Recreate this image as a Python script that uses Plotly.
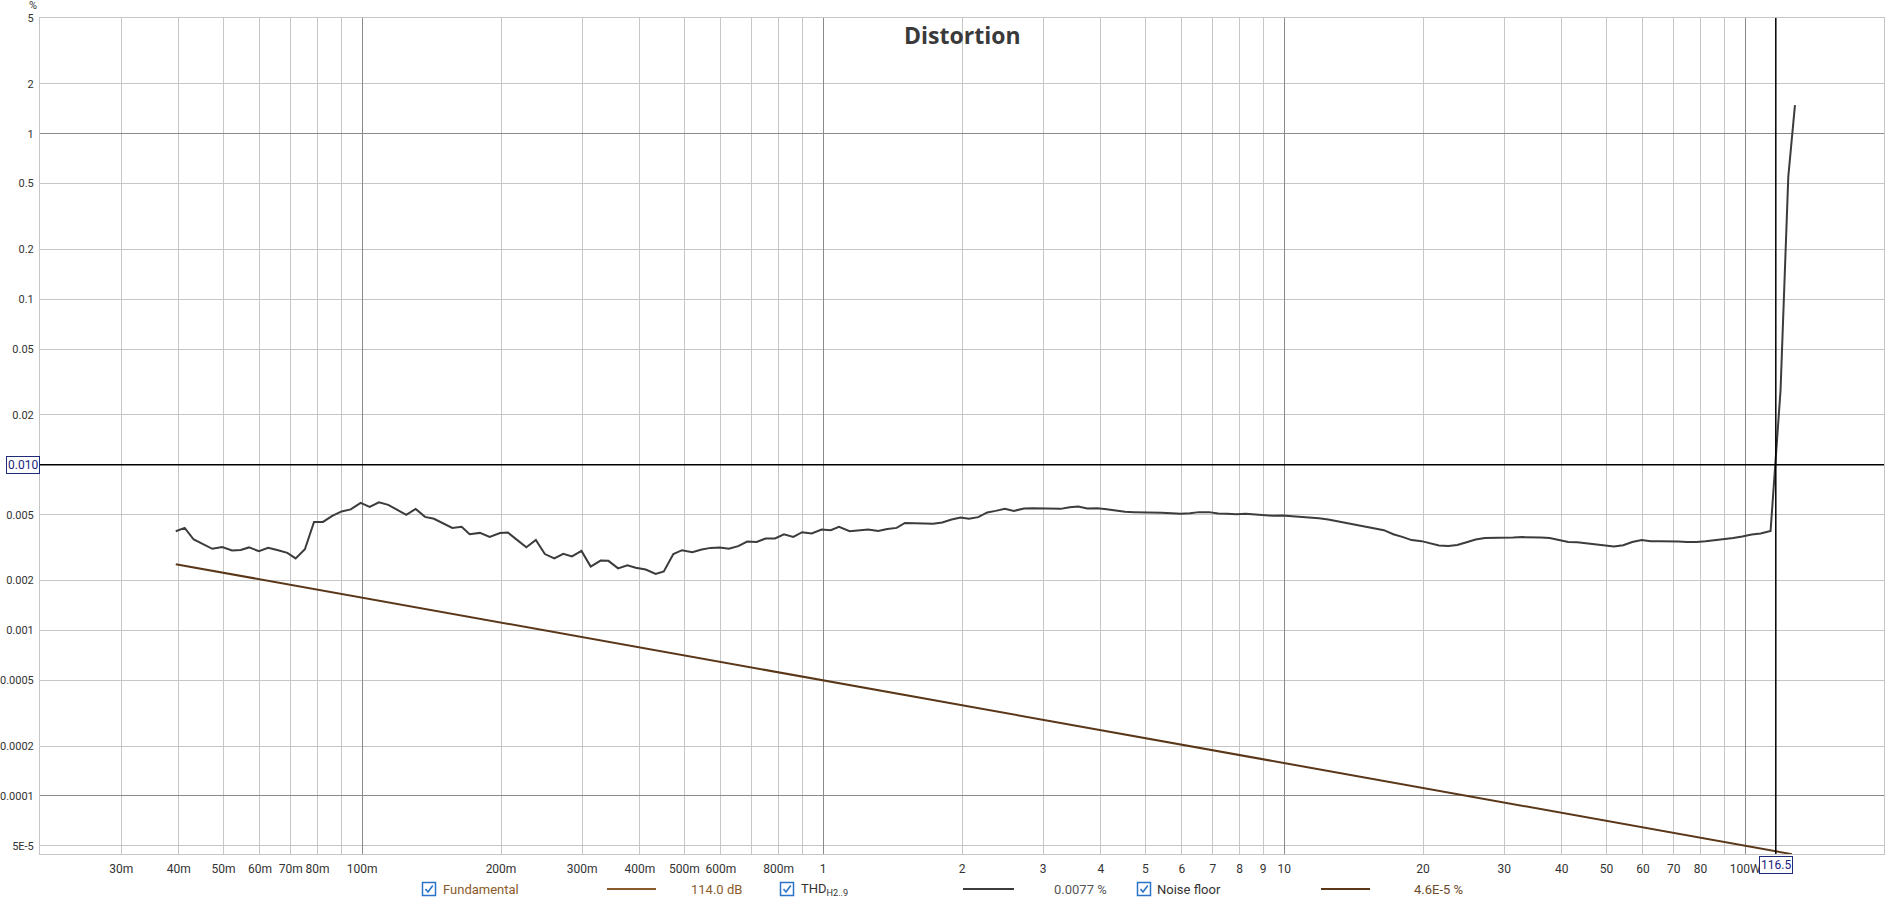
import math
import plotly.graph_objects as go

# ---------------- data ----------------
thd_power_w = [
    0.0394, 0.0412, 0.0431, 0.0450, 0.0473, 0.0497, 0.0522, 0.0545, 0.0568, 0.0597,
    0.0625, 0.0654, 0.0688, 0.0717, 0.0751, 0.0786, 0.0822, 0.0861, 0.0902, 0.0944,
    0.0992, 0.1038, 0.1087, 0.1139, 0.1191, 0.1246, 0.1306, 0.1368, 0.1431, 0.1497,
    0.1568, 0.1643, 0.171,
    0.180, 0.189, 0.199, 0.207, 0.217, 0.227, 0.238, 0.249, 0.261, 0.273,
    0.285, 0.299, 0.313, 0.329, 0.342, 0.359, 0.376, 0.392, 0.412, 0.433,
    0.451, 0.473, 0.494, 0.520, 0.545, 0.570, 0.597, 0.624, 0.654, 0.684,
    0.717, 0.750, 0.786, 0.822, 0.861, 0.900, 0.944, 0.992, 1.038, 1.082,
    1.141, 1.195, 1.252, 1.316, 1.377, 1.443, 1.504, 1.581, 1.654, 1.732,
    1.812, 1.899, 1.986, 2.071, 2.169, 2.269, 2.366, 2.478, 2.592, 2.725,
    2.850, 2.986, 3.129, 3.273, 3.424, 3.574, 3.738, 3.930, 4.119, 4.308,
    4.513, 4.721, 4.962, 5.172, 5.421, 5.699, 5.961, 6.244, 6.531, 6.866,
    7.192, 7.523, 7.869, 8.247, 8.639, 9.036, 9.466, 9.901, 10.41, 10.85,
    11.31, 11.89, 12.46, 13.03, 13.70, 14.33, 15.02, 15.73, 16.45, 17.24,
    18.03, 18.90, 19.86, 20.78, 21.66, 22.69, 23.73, 24.87, 26.01, 27.25,
    28.50, 29.96, 31.39, 32.83, 34.41, 35.99, 37.65, 39.43, 41.31, 43.21,
    45.29, 47.37, 49.62, 51.91, 54.37, 56.87, 59.61, 62.35, 65.31, 68.32,
    71.56, 74.85, 78.45, 82.06, 85.96, 89.91, 94.18, 98.52, 103.3, 108.0,
    113.5, 119.3, 124.0, 128.2,
]
thd_percent = [
    0.00397, 0.00416, 0.00354, 0.00332, 0.00311, 0.00319, 0.00304, 0.00306, 0.00317, 0.00301,
    0.00315, 0.00306, 0.00294, 0.00272, 0.00309, 0.00452, 0.00452, 0.00492, 0.00523, 0.00538,
    0.00589, 0.00557, 0.00593, 0.00573, 0.00535, 0.00499, 0.00542, 0.00485, 0.00472, 0.00444,
    0.00416, 0.00422, 0.00381,
    0.00388, 0.00367, 0.00387, 0.00390, 0.00351, 0.00318, 0.00352, 0.00289, 0.00272, 0.00290,
    0.00280, 0.00302, 0.00243, 0.00264, 0.00263, 0.00237, 0.00247, 0.00239, 0.00233, 0.00219,
    0.00227, 0.00289, 0.00305, 0.00297, 0.00308, 0.00315, 0.00317, 0.00311, 0.00323, 0.00344,
    0.00342, 0.00359, 0.00359, 0.00380, 0.00367, 0.00392, 0.00385, 0.00407, 0.00403, 0.00422,
    0.00397, 0.00403, 0.00407, 0.00399, 0.00410, 0.00416, 0.00446, 0.00444, 0.00440, 0.00440,
    0.00449, 0.00468, 0.00481, 0.00472, 0.00483, 0.00516, 0.00527, 0.00542, 0.00527, 0.00545,
    0.00547, 0.00545, 0.00545, 0.00542, 0.00555, 0.00560, 0.00545, 0.00547, 0.00540, 0.00532,
    0.00520, 0.00518, 0.00518, 0.00516, 0.00513, 0.00510, 0.00506, 0.00510, 0.00518, 0.00518,
    0.00508, 0.00506, 0.00503, 0.00506, 0.00500, 0.00494, 0.00492, 0.00494, 0.00490, 0.00485,
    0.00484, 0.00476, 0.00468, 0.00457, 0.00449, 0.00434, 0.00426, 0.00413, 0.00403, 0.00381,
    0.00367, 0.00351, 0.00346, 0.00335, 0.00326, 0.00323, 0.00328, 0.00341, 0.00354, 0.00362,
    0.00362, 0.00362, 0.00364, 0.00366, 0.00366, 0.00364, 0.00361, 0.00352, 0.00342, 0.00341,
    0.00335, 0.00332, 0.00324, 0.00321, 0.00327, 0.00342, 0.00352, 0.00346, 0.00346, 0.00346,
    0.00344, 0.00342, 0.00342, 0.00346, 0.00351, 0.00354, 0.00362, 0.00369, 0.00380, 0.00385,
    0.00399, 0.0283, 0.550, 1.49,
]
noise_power_w = [0.0394, 126.3]
noise_percent = [0.00251, 4.45e-5]

x_range_w = [0.02, 200.0]
y_range_pct = [4.46e-5, 5.0]

x_grid_vals = [0.03, 0.04, 0.05, 0.06, 0.07, 0.08, 0.09,
               0.1, 0.2, 0.3, 0.4, 0.5, 0.6, 0.7, 0.8, 0.9,
               1, 2, 3, 4, 5, 6, 7, 8, 9,
               10, 20, 30, 40, 50, 60, 70, 80, 90, 100]
x_grid_text = ["30m", "40m", "50m", "60m", "70m", "80m", " ",
               "100m", "200m", "300m", "400m", "500m", "600m", " ", "800m", " ",
               "1", "2", "3", "4", "5", "6", "7", "8", "9",
               "10", "20", "30", "40", "50", "60", "70", "80", " ", "100W"]
x_decades = [0.1, 1, 10, 100]

# the 0.01 label is replaced by the boxed cursor read-out "0.010"
y_grid_vals = [5, 2, 1, 0.5, 0.2, 0.1, 0.05, 0.02, 0.01, 0.005, 0.002, 0.001,
               0.0005, 0.0002, 0.0001, 5e-5]
y_grid_text = ["5", "2", "1", "0.5", "0.2", "0.1", "0.05", "0.02", " ", "0.005", "0.002",
               "0.001", "0.0005", "0.0002", "0.0001", "5E-5"]
y_decades = [1, 0.01, 0.0001]

cursor_x_w = 116.5
cursor_y_pct = 0.010
cursor_x_label = "116.5"
cursor_y_label = "0.010"

legend_names = ["Fundamental", "THD<sub>H2..9</sub>", "Noise floor"]
legend_values = ["114.0 dB", "0.0077 %", "4.6E-5 %"]

# ---------------- layout helpers ----------------
W, H = 1904, 901
PL, PR, PT, PB = 40, 1884, 18, 854


def fx(x):
    return (x - PL) / (PR - PL)


def fy(y):
    return (PB - y) / (PB - PT)


FONT = "Roboto, Liberation Sans, sans-serif"
GRID = "#c6c6c6"
GRID_DARK = "#8a8a8a"
THD_COLOR = "#3c3c3c"
NOISE_COLOR = "#5a3719"
FUND_COLOR = "#8b5a2b"
TXT = "#333333"

xr = [math.log10(v) for v in x_range_w]
yr = [math.log10(v) for v in y_range_pct]

fig = go.Figure()
fig.add_trace(go.Scatter(x=[], y=[], xaxis="x", yaxis="y", showlegend=False))
fig.add_trace(go.Scatter(x=noise_power_w, y=noise_percent, mode="lines",
                         line=dict(color=NOISE_COLOR, width=2), xaxis="x2", yaxis="y2",
                         showlegend=False, hoverinfo="skip"))
fig.add_trace(go.Scatter(x=thd_power_w, y=thd_percent, mode="lines",
                         line=dict(color=THD_COLOR, width=2), xaxis="x2", yaxis="y2",
                         showlegend=False, hoverinfo="skip"))

axis_common = dict(type="log", ticks="", zeroline=False, showgrid=True, gridwidth=1,
                   automargin=False)

fig.update_layout(
    width=W, height=H,
    margin=dict(l=PL, r=W - PR, t=PT, b=H - PB, pad=0, autoexpand=False),
    paper_bgcolor="white", plot_bgcolor="white",
    showlegend=False,
    font=dict(family=FONT, size=12, color=TXT),
    xaxis=dict(**axis_common, range=xr, tickmode="array", tickvals=x_grid_vals,
               ticktext=x_grid_text, gridcolor=GRID, showline=True, linecolor=GRID,
               mirror=True, anchor="y", tickfont=dict(family=FONT, size=12, color=TXT),
               ticklabelstandoff=4),
    yaxis=dict(**axis_common, range=yr, tickmode="array", tickvals=y_grid_vals,
               ticktext=y_grid_text, gridcolor=GRID, showline=True, linecolor=GRID,
               mirror=True, anchor="x", tickfont=dict(family=FONT, size=11, color=TXT),
               ticklabelstandoff=3),
    xaxis2=dict(**axis_common, range=xr, overlaying="x", anchor="y2", tickmode="array",
                tickvals=x_decades, showticklabels=False, gridcolor=GRID_DARK, showline=False),
    yaxis2=dict(**axis_common, range=yr, overlaying="y", anchor="x2", tickmode="array",
                tickvals=y_decades, showticklabels=False, gridcolor=GRID_DARK, showline=False),
)

shapes = []
shapes.append(dict(type="line", xref="x", yref="paper", x0=cursor_x_w, x1=cursor_x_w,
                   y0=0, y1=1, line=dict(color="black", width=1.5), layer="above"))
shapes.append(dict(type="line", xref="paper", yref="y", x0=0, x1=1,
                   y0=cursor_y_pct, y1=cursor_y_pct, line=dict(color="black", width=1.5),
                   layer="above"))

annotations = []
annotations.append(dict(text="<b>Distortion</b>", xref="paper", yref="paper",
                        x=fx(962), y=fy(35), xanchor="center", yanchor="middle",
                        showarrow=False,
                        font=dict(family="Open Sans, Noto Sans, sans-serif", size=23,
                                  color="#3a3a3a")))
annotations.append(dict(text="%", xref="paper", yref="paper", x=fx(33), y=fy(5),
                        xanchor="center", yanchor="middle",
                        showarrow=False, font=dict(size=11, color=TXT)))
annotations.append(dict(text=cursor_y_label, xref="paper", yref="y", x=fx(22.5),
                        y=math.log10(cursor_y_pct), xanchor="center", yanchor="middle",
                        showarrow=False,
                        bgcolor="white", bordercolor="#1f2a7a", borderwidth=1, borderpad=1,
                        font=dict(size=12, color="#1a237e")))
annotations.append(dict(text=cursor_x_label, xref="x", yref="paper",
                        x=math.log10(cursor_x_w), y=fy(865), xanchor="center",
                        yanchor="middle", showarrow=False,
                        bgcolor="white", bordercolor="#1f2a7a", borderwidth=1, borderpad=1,
                        font=dict(size=12, color="#1a237e")))

# legend row
LY = 889
checks = [429, 787, 1144]
name_x = [441, 799, 1155]
line_x = [(607, 656), (963, 1014), (1321, 1370)]
val_x = [689, 1052, 1412]
name_colors = [FUND_COLOR, TXT, TXT]
val_colors = [FUND_COLOR, "#555555", "#6b4a2a"]
line_colors = [FUND_COLOR, THD_COLOR, NOISE_COLOR]
for i in range(3):
    cx = checks[i]
    s = 6.5
    shapes.append(dict(type="rect", xref="paper", yref="paper",
                       x0=fx(cx - s), x1=fx(cx + s), y0=fy(LY + s), y1=fy(LY - s),
                       line=dict(color="#2a73c8", width=1.5), fillcolor="white"))
    path = "M {:.6f},{:.6f} L {:.6f},{:.6f} L {:.6f},{:.6f}".format(
        fx(cx - 3.5), fy(LY), fx(cx - 1), fy(LY + 3), fx(cx + 3.8), fy(LY - 3.5))
    shapes.append(dict(type="path", xref="paper", yref="paper", path=path,
                       line=dict(color="#2a73c8", width=1.6)))
    annotations.append(dict(text=legend_names[i], xref="paper", yref="paper",
                            x=fx(name_x[i]), y=fy(LY), xanchor="left", yanchor="middle",
                            showarrow=False, font=dict(size=13, color=name_colors[i])))
    shapes.append(dict(type="line", xref="paper", yref="paper",
                       x0=fx(line_x[i][0]), x1=fx(line_x[i][1]), y0=fy(LY), y1=fy(LY),
                       line=dict(color=line_colors[i], width=2)))
    annotations.append(dict(text=legend_values[i], xref="paper", yref="paper",
                            x=fx(val_x[i]), y=fy(LY), xanchor="left", yanchor="middle",
                            showarrow=False, font=dict(size=13, color=val_colors[i])))

fig.update_layout(shapes=shapes, annotations=annotations)

fig.write_html("out.html", config={"displayModeBar": False},
               post_script="document.body.style.margin='0';document.body.style.overflow='hidden';")
